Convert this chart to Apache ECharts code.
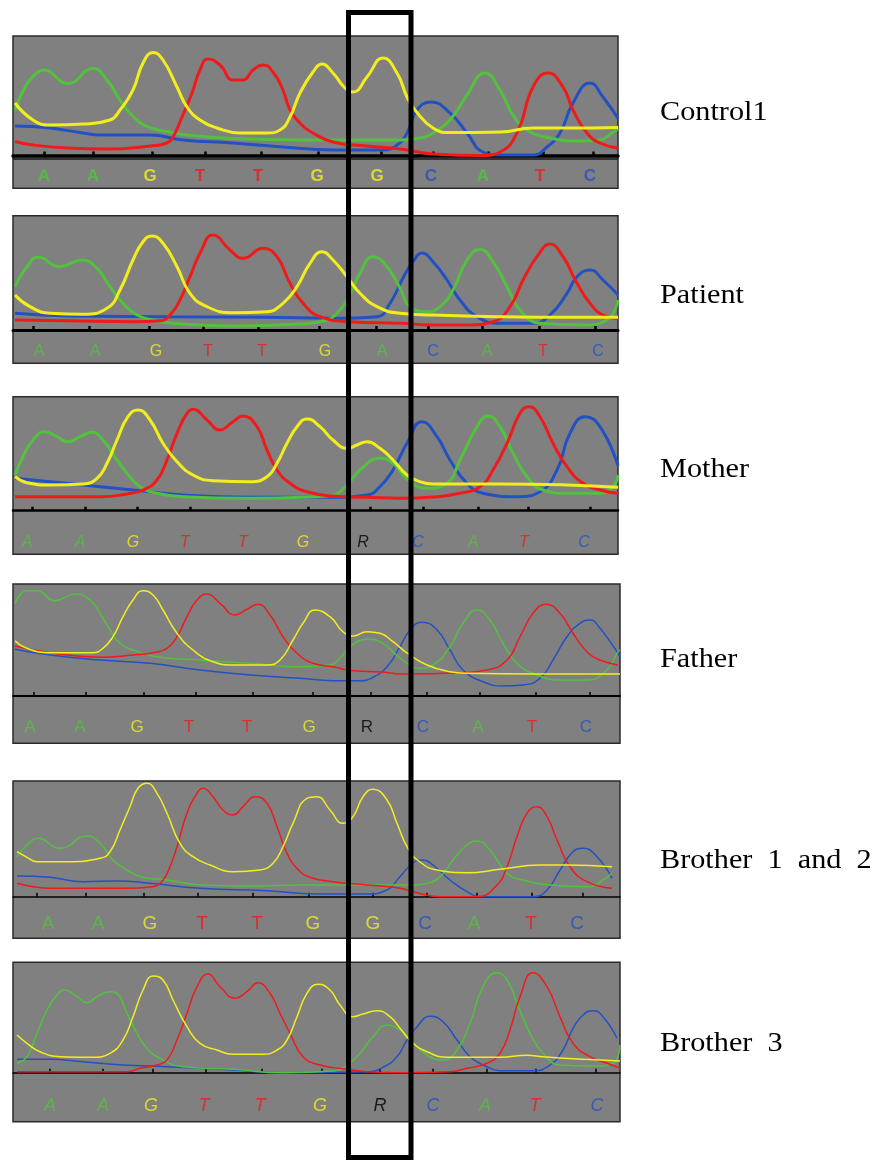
<!DOCTYPE html>
<html>
<head>
<meta charset="utf-8">
<script src="https://cdn.jsdelivr.net/npm/echarts@6/dist/echarts.min.js"></script>
<style>
html,body{margin:0;padding:0;background:#fff}
#chart{width:873px;height:1160px}
</style>
</head>
<body>
<div id="chart"></div>
<script>
// ---- Sequencing traces: [scan position, signal] per dye channel ----
const controlGreen = [[2,45.5],[32,85.5],[55,72],[80,87],[94,75.5],[107,55.5],[120,39],[134,29],[154,24],[174,20.5],[220,17],[287,15.5],[354,15.5],[387,15.5],[407,17.5],[420,22.5],[437,35.5],[454,60.5],[472,82.5],[487,65.5],[500,40.5],[514,25.5],[537,17.5],[567,14.5],[587,15.5],[599,22.5],[605,27]];
const controlYellow = [[2,52.5],[20,35.5],[37,30.5],[70,31.5],[97,35.5],[107,45.5],[120,65.5],[130,92.5],[140,103],[150,95.5],[164,68.5],[174,48.5],[187,35.5],[204,27.5],[227,22.5],[254,22.5],[267,25.5],[277,38.5],[287,62.5],[300,83.5],[309,91.5],[320,82.5],[332,67.5],[340,63.5],[354,78.5],[370,97.5],[384,82.5],[394,58.5],[402,45.5],[420,27.5],[437,23],[487,23.5],[520,27.5],[554,27.5],[605,28]];
const controlRed = [[2,14],[20,10.5],[54,7.5],[94,6.5],[137,9.5],[154,12.5],[160,18.5],[169,38.5],[179,62.5],[187,85.5],[195,96.5],[207,90.5],[220,75.5],[230,75.5],[240,85.5],[250,90.5],[260,83.5],[270,65.5],[277,45.5],[287,32.5],[300,22.5],[320,13.5],[354,9.5],[387,6.5],[420,1.5],[470,0],[487,3.5],[504,22.5],[520,68.5],[535,82.5],[550,68.5],[560,45.5],[574,22.5],[587,12.5],[605,7.5]];
const controlBlue = [[2,29.5],[37,27.5],[70,22.5],[87,20.5],[137,20.5],[170,15.5],[220,12.5],[270,8.5],[320,5.5],[370,5.5],[384,10.5],[394,22.5],[404,45.5],[418,53.5],[437,42.5],[454,22.5],[470,3.5],[487,0.5],[520,0.5],[534,8.5],[547,22.5],[560,52.5],[577,72.5],[590,58.5],[605,37]];

const patientGreen = [[2,43.3],[14,63.3],[25,72.7],[47,63.3],[69,70],[84,61.7],[97,43.3],[110,26.7],[124,15],[140,10],[160,6.7],[220,4],[287,6],[314,10],[324,16.7],[334,30],[347,56.7],[360,73.3],[374,63.3],[387,42],[397,23.3],[414,18.3],[427,23.3],[440,40],[454,70],[467,80.7],[480,68.3],[494,43.3],[507,20],[527,6.7],[570,5],[594,10],[605,30]];
const patientYellow = [[2,35],[17,23.3],[37,16.7],[70,15.7],[94,21.7],[107,40],[120,70],[130,88.3],[139,94],[150,86.7],[164,63.3],[177,36.7],[194,23.3],[220,17.3],[254,18.3],[270,26.7],[284,43.3],[297,66.7],[309,78.3],[320,70],[334,53.3],[347,36.7],[364,23.3],[387,16.7],[420,15],[487,13.3],[554,12.7],[605,12.7]];
const patientRed = [[2,10],[54,9.3],[120,8.3],[147,9.3],[157,15],[167,30],[177,53.3],[187,76.7],[200,95],[217,80],[230,71.7],[250,81.7],[264,73.3],[277,46.7],[290,26.7],[307,13.3],[337,8.3],[387,6.7],[420,5],[454,5],[480,8.3],[497,23.3],[510,50],[524,73.3],[537,86],[550,73.3],[564,46.7],[577,26.7],[590,15],[605,11.7]];
const patientBlue = [[2,16.7],[54,14],[154,13.3],[254,12.7],[320,11.7],[364,13.3],[377,26.7],[390,52],[400,68.3],[409,77],[420,68.3],[434,50],[447,30],[464,13.3],[487,6.7],[520,6.7],[537,15],[554,36.7],[564,53.3],[577,60],[590,50],[605,35]];

const motherGreen = [[2,35.7],[10,54],[20,70.7],[32,79],[44,74],[55,69],[67,74],[79,78.4],[90,70.7],[104,50.7],[114,37.4],[127,24],[144,17.4],[170,14],[237,12.4],[304,14],[320,15.7],[334,25.7],[347,40.7],[367,52.4],[380,47.4],[394,31.7],[414,22.4],[434,27.4],[447,50.7],[464,84],[475,94.7],[487,84],[500,57.4],[514,34],[530,20.7],[554,17.4],[587,17.4],[600,24],[605,35.7]];
const motherYellow = [[2,34],[14,28],[37,25.7],[70,26.7],[84,32.4],[94,47.4],[104,70.7],[115,94],[125,100.7],[137,90.7],[150,67.4],[164,49],[180,35.7],[200,30],[237,29],[254,34],[264,47.4],[274,67.4],[284,84],[294,91.7],[307,84],[320,70.7],[334,62.4],[344,65.7],[354,69],[367,62.4],[380,50.7],[394,35.7],[407,29],[420,26.7],[487,26.7],[554,25.7],[605,23.4]];
const motherRed = [[2,14],[87,14],[114,16.7],[130,20.7],[144,30.7],[154,50.7],[164,77.4],[174,97.4],[180,101.4],[194,90.7],[207,80.7],[220,89],[230,94.7],[244,84],[254,60.7],[264,40.7],[277,27.4],[294,19],[320,14.7],[354,13.4],[387,12.4],[420,13.7],[447,17.4],[467,24],[480,40.7],[494,67.4],[507,97.4],[516,104],[527,94],[540,67.4],[554,44],[570,27.4],[587,20.7],[605,17.4]];
const motherBlue = [[2,32.4],[37,29],[70,25.7],[120,20.7],[170,15.7],[237,13.4],[320,13.4],[354,15.7],[367,24],[380,40.7],[394,67.4],[409,89],[424,74],[437,50.7],[454,27.4],[470,17.4],[504,14],[527,19],[544,40.7],[557,77.4],[572,94],[587,84],[605,45]];

const fatherGreen = [[2,92.7],[14,105.3],[24,105.3],[42,95.3],[62,102],[77,96],[87,82.7],[97,66],[107,52.7],[120,46],[147,38.7],[187,36],[237,32.7],[287,29.3],[317,31],[327,37.7],[337,49.3],[354,56.7],[370,52.7],[387,38],[407,27.7],[420,31],[437,49.3],[450,72.7],[464,86],[477,76],[490,52.7],[504,32.7],[520,22.7],[547,16],[574,16],[594,26],[604,42.7],[607,46]];
const fatherYellow = [[2,55.3],[14,47.7],[37,43.3],[80,43.3],[90,47.7],[100,59.3],[110,79.3],[120,96],[130,105.3],[140,101],[150,86],[164,62.7],[180,46],[200,34.3],[220,31],[254,31],[267,36],[280,56],[290,72.7],[302,86],[317,79.3],[330,64.3],[340,60],[354,64.3],[367,62.7],[380,54.3],[394,43],[414,31],[437,24.3],[454,22.7],[520,22],[607,22]];
const fatherRed = [[2,50],[37,43.3],[87,38.7],[120,41],[140,43.3],[154,47.7],[164,59.3],[174,79.3],[184,96],[194,102],[207,92.7],[222,81],[234,86.7],[245,91.7],[257,81],[270,59.3],[284,42.7],[300,32.7],[320,29.3],[340,25.3],[370,24],[387,22],[447,23.3],[474,26],[494,36],[507,59.3],[520,82.7],[533,91.7],[547,82.7],[560,62.7],[574,44.3],[587,36],[605,31]];
const fatherBlue = [[2,46.7],[37,41],[87,36],[137,32.7],[187,26],[237,21],[287,17.7],[320,15.3],[347,15.3],[360,18.7],[374,29.3],[387,49.3],[397,66],[409,73.7],[424,66],[437,46],[450,26],[470,14.3],[490,10],[510,11],[527,17.7],[540,36],[554,59.3],[567,72.7],[577,76],[587,67.7],[604,44.3],[607,39]];

const bro12Green = [[4,40],[14,51.7],[25,58.4],[47,48.4],[74,60.7],[87,53.4],[100,36.7],[114,26.7],[130,19.4],[154,16.7],[187,11.7],[237,10.7],[287,11.7],[354,11.7],[400,11.7],[414,13.4],[427,20],[440,36.7],[454,51.7],[464,55.7],[477,46.7],[494,23.4],[510,16.7],[537,11.7],[577,10],[590,16.7],[599,23.4]];
const bro12Yellow = [[4,45],[14,39.4],[24,35],[54,35],[87,38.4],[97,45],[107,66.7],[117,90],[125,108.4],[134,113.4],[144,103.4],[154,83.4],[167,53.4],[180,40],[197,31.7],[220,25],[247,26.7],[260,33.4],[270,50],[280,73.4],[294,98.4],[304,100],[317,86.7],[330,73.4],[340,80],[350,100],[360,107.4],[374,96.7],[384,73.4],[395,48.4],[407,34.7],[424,26.7],[454,24],[487,27.4],[527,31.7],[554,31.7],[599,30]];
const bro12Red = [[4,13.4],[20,10],[37,8.4],[110,8.4],[140,10],[150,16.7],[157,30],[164,50],[174,83.4],[184,103.4],[190,108.4],[200,100],[210,86.7],[220,81.7],[230,90],[242,100],[254,93.4],[264,70],[274,43.4],[284,28.4],[297,19.4],[320,15],[354,11.7],[387,8.4],[404,4],[427,0],[464,0],[484,11.7],[494,30],[504,60],[514,83.4],[524,90],[534,80],[544,56.7],[557,30],[574,15],[599,8.4]];
const bro12Blue = [[4,20.7],[37,19.4],[70,15],[104,15.7],[137,13.4],[187,8.4],[254,6],[304,2.7],[354,2.7],[374,6.7],[387,20],[400,33.7],[410,36.7],[420,31.7],[437,16.7],[454,5],[467,0],[520,0],[534,6.7],[547,26.7],[560,45],[570,48.4],[584,40],[599,18.4]];

const bro3Green = [[4,9.4],[14,16],[24,39.4],[34,62.7],[44,77.7],[52,82.7],[62,77.7],[74,70],[84,76],[97,81],[104,79.4],[114,59.4],[124,39.4],[134,24.4],[147,14.4],[170,6],[220,3.4],[270,0],[320,1.7],[334,7.7],[347,19.4],[360,36],[374,47.7],[387,42.7],[397,33.7],[414,17.7],[430,12.7],[444,22.7],[457,49.4],[470,86],[484,100],[494,92.7],[504,69.4],[517,39.4],[530,19.4],[547,7.7],[580,6.7],[600,9.4],[607,27.7]];
const bro3Yellow = [[4,37.7],[14,29.4],[27,21],[47,16],[80,15.4],[97,19.4],[110,32.7],[120,56],[130,82.7],[140,96.7],[150,92.7],[160,72.7],[174,46],[187,29.4],[204,22.7],[220,18.4],[250,18.4],[264,22.7],[274,32.7],[284,56],[294,79.4],[305,88.4],[317,82.7],[327,67.7],[340,56],[350,58.7],[364,62],[377,56],[387,44.4],[400,29.4],[414,21],[434,15.4],[487,15.4],[514,17.4],[530,16],[560,14],[587,12.7],[607,11.7]];
const bro3Red = [[4,1],[114,1],[127,4.4],[144,7.7],[154,12.7],[164,32.7],[174,59.4],[184,86],[195,98.7],[207,86],[222,74.4],[234,81],[245,90],[257,79.4],[267,59.4],[277,39.4],[290,16],[307,7.7],[334,3.4],[354,1],[387,0],[437,1],[454,4.4],[474,9.4],[487,19.4],[497,42.7],[507,76],[520,100],[534,86],[547,56],[560,29.4],[577,16],[594,9.4],[607,4.7]];
const bro3Blue = [[4,13.4],[37,13.4],[70,11],[110,7.7],[154,6],[220,2.7],[270,0],[354,1],[370,5.4],[384,16],[394,32.7],[404,46],[417,56.4],[430,51],[444,32.7],[457,16],[474,6],[487,2],[520,2],[537,7.7],[550,22.7],[560,44.4],[570,57.7],[580,62],[590,56],[604,34.4]];

// ---- Peak tick positions along the scan axis ----
const controlTicks = [31,80,139,192,248,305,368,420,475,530,580];
const patientTicks = [20,76,136,190,245,306,363,415,469,526,582];
const motherTicks = [19,72,124,177,235,295,357,410,465,515,577];
const fatherTicks = [21,73,131,183,240,300,358,414,467,523,577];
const bro12Ticks = [24,73,131,185,240,296,360,414,464,519,570];
const bro3Ticks = [37,90,140,193,249,309,367,420,474,523,583];

// ---- Base calls and where they sit on the scan axis ----
const controlCalls = ['A','A','G','T','T','G','G','C','A','T','C'];
const patientCalls = ['A','A','G','T','T','G','A','C','A','T','C'];
const motherCalls = ['A','A','G','T','T','G','R','C','A','T','C'];
const fatherCalls = ['A','A','G','T','T','G','R','C','A','T','C'];
const bro12Calls = ['A','A','G','T','T','G','G','C','A','T','C'];
const bro3Calls = ['A','A','G','T','T','G','R','C','A','T','C'];

const controlCallPos = [31,80,137,187,245,304,364,418,470,527,577];
const patientCallPos = [26,82,143,195,249,312,369,420,474,530,585];
const motherCallPos = [14,67,120,172,230,290,350,405,460,511,571];
const fatherCallPos = [17,67,124,176,234,296,354,410,465,519,573];
const bro12CallPos = [35,85,137,189,244,300,360,412,461,518,564];
const bro3CallPos = [37,90,138,191,247,307,367,420,472,522,584];

const sampleNames = ['Control1','Patient','Mother','Father','Brother 1 and 2','Brother 3'];

// ---- Panel assembly ----
const dyeColor = { A:'#52c23c', G:'#f2ee1e', T:'#f01a1a', C:'#2251c4', R:'#000000' };

const panels = [
  { traces:[controlBlue, controlGreen, controlRed, controlYellow], ticks:controlTicks, calls:controlCalls, callPos:controlCallPos,
    frame:{top:36, bottom:188.3, zero:155.5, right:618, xmax:605}, lw:3, axisW:3.5, tickW:2.5, callRow:-20.5,
    font:{size:17, weight:900, style:'normal'}, sep:-3, labelY:113 },
  { traces:[patientBlue, patientGreen, patientRed, patientYellow], ticks:patientTicks, calls:patientCalls, callPos:patientCallPos,
    frame:{top:215.7, bottom:363.3, zero:330, right:618, xmax:605}, lw:3, axisW:3, tickW:2.5, callRow:-21.7,
    font:{size:16, weight:'normal', style:'normal'}, labelY:296 },
  { traces:[motherBlue, motherGreen, motherRed, motherYellow], ticks:motherTicks, calls:motherCalls, callPos:motherCallPos,
    frame:{top:396.7, bottom:554.3, zero:510.7, right:618, xmax:605}, lw:3, axisW:2.5, tickW:2.5, callRow:-32,
    font:{size:16, weight:'normal', style:'italic'}, labelY:470 },
  { traces:[fatherBlue, fatherGreen, fatherRed, fatherYellow], ticks:fatherTicks, calls:fatherCalls, callPos:fatherCallPos,
    frame:{top:584, bottom:743.3, zero:696, right:620, xmax:607}, lw:1.5, axisW:2, tickW:1.5, callRow:-31.7,
    font:{size:17, weight:'normal', style:'normal'}, labelY:660 },
  { traces:[bro12Blue, bro12Green, bro12Red, bro12Yellow], ticks:bro12Ticks, calls:bro12Calls, callPos:bro12CallPos,
    frame:{top:781, bottom:938.3, zero:896.7, right:620, xmax:607}, lw:1.5, axisW:1.5, tickW:1.5, callRow:-26.6,
    font:{size:19, weight:'normal', style:'normal'}, labelY:861 },
  { traces:[bro3Blue, bro3Green, bro3Red, bro3Yellow], ticks:bro3Ticks, calls:bro3Calls, callPos:bro3CallPos,
    frame:{top:962.3, bottom:1121.7, zero:1072.7, right:620, xmax:607}, lw:1.5, axisW:1.5, tickW:1.5, callRow:-33.3,
    font:{size:18, weight:'normal', style:'italic'}, labelY:1044 }
];
const traceColors = [dyeColor.C, dyeColor.A, dyeColor.T, dyeColor.G];
const LEFT = 13;

const grid = [], xAxis = [], yAxis = [], series = [], graphic = [];

panels.forEach((p, i) => {
  const f = p.frame;
  grid.push({
    left: LEFT, top: f.top, width: f.right - LEFT, height: f.bottom - f.top,
    show: true, backgroundColor: '#808080', borderColor: '#2a2a2a', borderWidth: 1.5
  });
  xAxis.push({
    type: 'value', gridIndex: i, min: 0, max: f.xmax,
    axisLine: { show: true, onZero: true, lineStyle: { color: '#000', width: p.axisW } },
    axisTick: { show: true, inside: true, length: 4, customValues: p.ticks, lineStyle: { color: '#000', width: p.tickW } },
    axisLabel: { show: false }, splitLine: { show: false }
  });
  yAxis.push({
    type: 'value', gridIndex: i, min: f.zero - f.bottom, max: f.zero - f.top, show: false
  });
  p.traces.forEach((d, k) => {
    series.push({
      type: 'line', xAxisIndex: i, yAxisIndex: i, data: d,
      smooth: 0.5, symbol: 'none', silent: true,
      lineStyle: { color: traceColors[k], width: p.lw }
    });
  });
  const callSeries = {
    type: 'scatter', xAxisIndex: i, yAxisIndex: i, symbolSize: 1, silent: true, z: 5,
    itemStyle: { color: 'rgba(0,0,0,0)' },
    data: p.callPos.map((x, j) => ({
      value: [x, p.callRow], name: p.calls[j],
      label: { color: dyeColor[p.calls[j]] }
    })),
    label: {
      show: true, position: 'inside', formatter: '{b}',
      fontFamily: 'Liberation Sans, Arial, sans-serif',
      fontSize: p.font.size, fontWeight: p.font.weight, fontStyle: p.font.style
    },
    labelLayout: { hideOverlap: false }
  };
  if (p.sep !== undefined) {
    callSeries.markLine = {
      silent: true, symbol: 'none', label: { show: false },
      lineStyle: { color: '#1a1a1a', width: 1.5, type: 'solid' },
      data: [{ yAxis: p.sep }]
    };
  }
  series.push(callSeries);

  graphic.push({
    type: 'text', x: 660, y: p.labelY, z: 100, scaleX: 1.12,
    style: {
      text: sampleNames[i].replace(/ /g, '  '),
      font: '27px "Liberation Serif", "Times New Roman", serif',
      fill: '#000', textAlign: 'left', textVerticalAlign: 'middle',
      align: 'left', verticalAlign: 'middle'
    }
  });
});

// Highlight frame around the variant position
graphic.push({
  type: 'rect', z: 100,
  shape: { x: 348.5, y: 12.5, width: 62.5, height: 1145 },
  style: { fill: 'transparent', stroke: '#000', lineWidth: 5 }
});

const chart = echarts.init(document.getElementById('chart'), null, { renderer: 'canvas' });
chart.setOption({
  animation: false,
  backgroundColor: '#ffffff',
  grid, xAxis, yAxis, series, graphic
});
</script>
</body>
</html>
